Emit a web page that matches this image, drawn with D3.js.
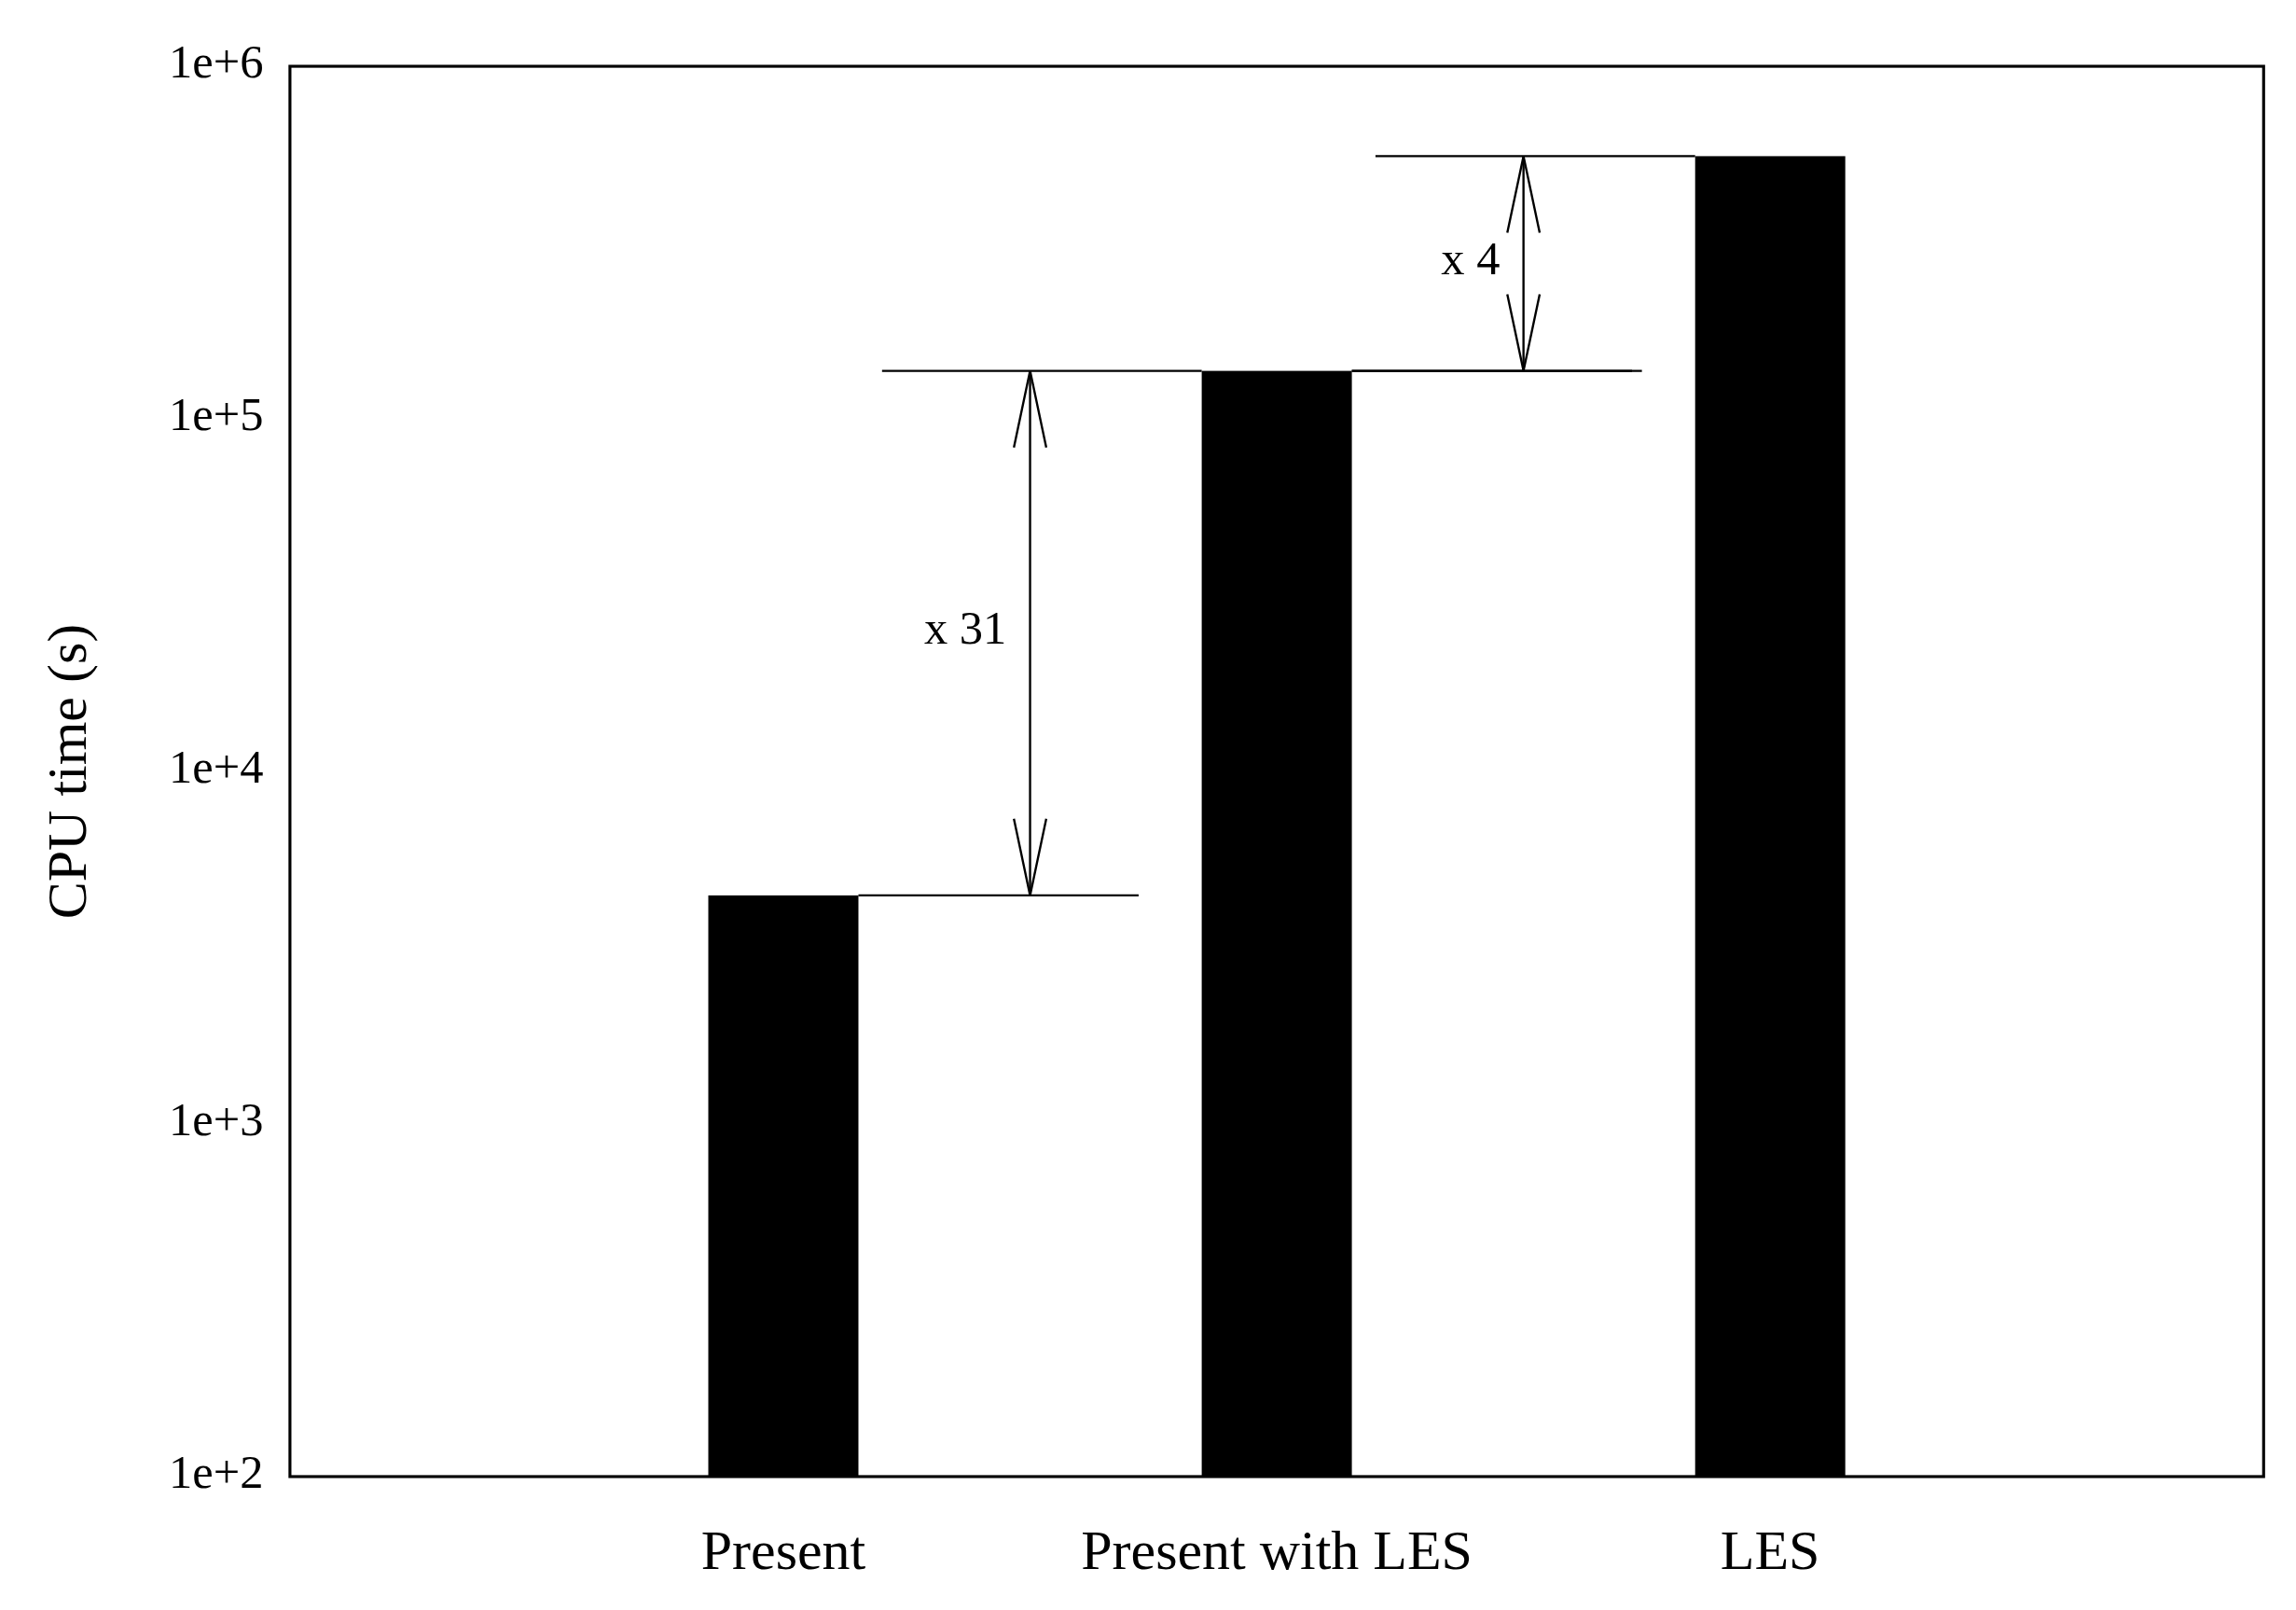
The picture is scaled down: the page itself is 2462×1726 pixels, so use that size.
<!DOCTYPE html>
<html><head><meta charset="utf-8">
<script src="https://cdn.jsdelivr.net/npm/d3@7"></script>
<style>body{margin:0;background:#fff}svg{display:block}</style>
</head><body>
<svg id="chart" width="2462" height="1726" viewBox="0 0 1560 1093.6"></svg>
<script>
const categories = ['Present', 'Present with  LES', 'LES'];
const cpuTime = [4450, 136800, 556000];
const yTicks = [1e2, 1e3, 1e4, 1e5, 1e6];
const tickLabels = ['1e+2', '1e+3', '1e+4', '1e+5', '1e+6'];
// [from bar index, to bar index, label]
const ratios = [[0, 1, 'x 31'], [1, 2, 'x 4']];

const m = { left: 197, right: 1538, top: 45, bottom: 1003 };
const svg = d3.select('#chart');
const font = 'Liberation Serif, Times New Roman, serif';

const x = d3.scalePoint().domain(categories).range([m.left, m.right]).padding(1);
const y = d3.scaleLog().domain([1e2, 1e6]).range([m.bottom, m.top]);
const barW = 102;

svg.append('rect')
  .attr('x', m.left).attr('y', m.top)
  .attr('width', m.right - m.left).attr('height', m.bottom - m.top)
  .attr('fill', 'none').attr('stroke', 'black').attr('stroke-width', 2);

// BARRAS
svg.selectAll('.bar').data(categories).join('rect')
  .attr('x', d => x(d) - barW / 2)
  .attr('y', (d, i) => y(cpuTime[i]))
  .attr('width', barW)
  .attr('height', (d, i) => m.bottom - y(cpuTime[i]))
  .attr('fill', 'black');

// ETIQUETAS
yTicks.forEach((t, i) => {
  svg.append('text').attr('x', m.left - 18).attr('y', y(t))
    .attr('text-anchor', 'end').attr('dominant-baseline', 'middle')
    .attr('font-family', font).attr('font-size', 32).text(tickLabels[i]);
});
categories.forEach(c => {
  svg.append('text').attr('x', x(c)).attr('y', 1066)
    .attr('text-anchor', 'middle').attr('font-family', font)
    .attr('font-size', 38).text(c);
});
svg.append('text')
  .attr('transform', `translate(58,${(m.top + m.bottom) / 2}) rotate(-90)`)
  .attr('text-anchor', 'middle').attr('font-family', font)
  .attr('font-size', 38).text('CPU time (s)');

// FLECHAS
const step = x.step();
const arrowHead = (ax, ay, dir) => {
  svg.append('path')
    .attr('d', `M${ax - 11},${ay - dir * 52}L${ax},${ay}L${ax + 11},${ay - dir * 52}`)
    .attr('fill', 'none').attr('stroke', 'black').attr('stroke-width', 1.5);
};
ratios.forEach(([a, b, label]) => {
  const xa = x(categories[a]), xb = x(categories[b]);
  const ya = y(cpuTime[a]), yb = y(cpuTime[b]);
  const ax = xa + step * 0.5;
  // lower level line from bar a
  svg.append('line').attr('x1', xa + barW / 2).attr('x2', xa + step * 0.72)
    .attr('y1', ya).attr('y2', ya).attr('stroke', 'black').attr('stroke-width', 1.5);
  // upper level line to bar b
  svg.append('line').attr('x1', xa + step * 0.2).attr('x2', xb - barW / 2)
    .attr('y1', yb).attr('y2', yb).attr('stroke', 'black').attr('stroke-width', 1.5);
  svg.append('line').attr('x1', ax).attr('x2', ax).attr('y1', yb).attr('y2', ya)
    .attr('stroke', 'black').attr('stroke-width', 1.5);
  arrowHead(ax, yb, -1);
  arrowHead(ax, ya, 1);
  svg.append('text').attr('x', ax - 16).attr('y', Math.sqrt(ya * yb) ? (ya + yb) / 2 : 0)
    .attr('text-anchor', 'end').attr('dominant-baseline', 'middle')
    .attr('font-family', font).attr('font-size', 32).text(label);
});
// extend the x 31 upper line to meet the x 4 arrow
svg.append('line').attr('x1', x(categories[1]) + barW / 2).attr('x2', x(categories[1]) + step * 0.74)
  .attr('y1', y(cpuTime[1])).attr('y2', y(cpuTime[1])).attr('stroke', 'black').attr('stroke-width', 1.5);
</script>
</body></html>
